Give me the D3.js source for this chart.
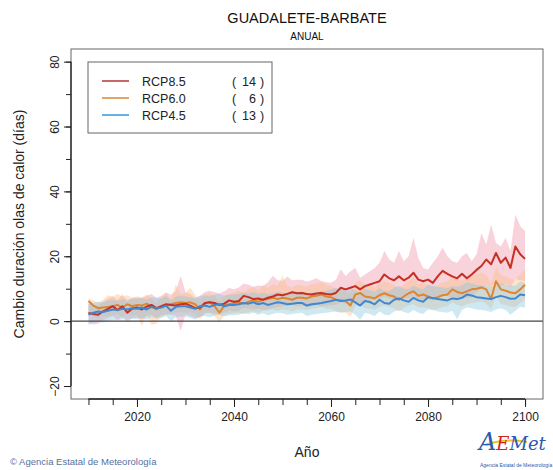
<!DOCTYPE html>
<html>
<head>
<meta charset="utf-8">
<script src="https://cdn.jsdelivr.net/npm/d3@7"></script>
<style>
  body { margin: 0; background: #fff; }
  svg { display: block; font-family: "Liberation Sans", Arial, sans-serif; }
</style>
</head>
<body>
<svg id="chart" width="553" height="470"></svg>
<script>
var width = 553, height = 470;

var startYear = 2010;

// Mean change per scenario (days), 2010..2100
var rcp85 = [2.5, 2.2, 2.0, 3.0, 3.8, 4.6, 3.4, 4.6, 2.6, 3.8,
    4.2, 3.6, 4.5, 5.0, 4.0, 4.6, 5.2, 5.0, 4.8, 5.2,
    5.4, 4.8, 4.0, 4.2, 5.6, 5.8, 5.6, 5.0, 5.4, 6.4,
    6.0, 6.2, 7.8, 7.4, 6.8, 7.0, 6.6, 7.2, 7.6, 8.2,
    8.0, 8.4, 8.9, 8.6, 8.7, 8.4, 8.2, 8.5, 8.7, 8.4,
    8.2, 8.7, 10.3, 9.8, 10.3, 10.8, 9.8, 10.8, 11.3, 11.8,
    12.3, 14.4, 13.2, 12.6, 13.8, 12.6, 13.4, 14.9, 12.8, 12.3,
    12.8, 11.8, 13.8, 15.5, 14.6, 13.8, 13.2, 14.6, 13.2, 14.4,
    15.8, 17.0, 19.0, 17.5, 21.0, 18.0, 19.6, 16.4, 23.0, 20.6,
    19.2];
var rcp85Lo = [-0.5, -1.0, -0.8, 0.2, 1.0, 1.6, 0.4, 1.4, -0.2, 0.8,
    1.2, 0.6, 1.4, 2.0, 1.0, 1.8, 2.2, 2.0, 1.6, -3.0,
    2.0, 1.6, 0.8, 1.2, 2.4, 2.6, 2.4, 2.0, 2.6, 3.2,
    3.0, 3.2, 4.0, 3.8, 3.6, 3.8, 3.4, 3.6, 4.0, 4.4,
    4.6, 4.8, 5.0, 4.6, 4.8, 4.4, 4.6, 5.0, 4.6, 4.8,
    4.8, 5.0, 5.8, 5.4, 5.6, 6.0, 5.4, 6.0, 6.2, 6.6,
    6.8, 7.6, 7.0, 6.8, 7.2, 6.8, 7.0, 7.8, 6.8, 6.6,
    6.8, 6.2, 7.2, 8.0, 7.6, 7.2, 7.0, 7.6, 7.0, 7.4,
    9.0, 10.0, 11.0, 10.6, 12.0, 11.0, 11.4, 10.4, 13.0, 12.6,
    12.4];
var rcp85Hi = [5.5, 5.0, 4.8, 6.0, 7.0, 7.6, 6.6, 8.2, 6.0, 7.2,
    7.4, 7.0, 7.8, 8.4, 7.2, 7.8, 8.8, 8.2, 9.2, 14.0,
    9.0, 8.4, 7.2, 7.8, 9.0, 9.4, 9.0, 8.6, 9.2, 10.2,
    9.8, 10.4, 11.6, 11.2, 10.6, 11.0, 10.8, 12.0, 14.0, 12.6,
    12.4, 13.8, 12.6, 12.8, 12.8, 12.2, 12.6, 13.2, 12.4, 12.0,
    11.8, 12.8, 16.0, 13.9, 15.4, 16.4, 13.4, 14.4, 15.4, 16.4,
    18.0, 21.6, 19.0, 18.0, 21.6, 18.5, 20.0, 25.7, 19.5, 16.4,
    15.9, 18.0, 20.0, 22.6, 20.0, 18.5, 18.0, 20.0, 21.0, 18.5,
    20.6, 27.2, 23.6, 29.8, 24.2, 23.0, 25.7, 21.6, 32.9, 29.3,
    27.7];

var rcp60 = [6.2, 4.8, 4.0, 4.2, 4.4, 4.6, 5.0, 4.2, 5.2, 4.6,
    5.0, 4.8, 5.4, 4.4, 3.6, 4.4, 4.8, 5.2, 5.6, 5.8,
    5.6, 5.8, 5.2, 3.6, 5.4, 5.8, 4.6, 2.6, 4.8, 5.2,
    5.6, 5.8, 5.4, 6.0, 6.4, 6.0, 6.6, 6.8, 7.2, 6.8,
    7.2, 7.0, 6.6, 7.2, 7.2, 7.0, 7.6, 7.8, 8.2, 7.6,
    7.4, 6.6, 6.4, 6.2, 4.8, 8.2, 8.7, 7.6, 7.4, 7.0,
    8.0, 8.6, 8.0, 7.6, 6.6, 7.6, 8.6, 9.2, 7.8, 8.2,
    7.6, 7.0, 7.4, 8.0, 8.2, 9.8, 9.0, 8.6, 9.2, 9.8,
    10.0, 10.4, 9.8, 6.8, 12.3, 9.8, 9.4, 8.8, 8.6, 9.8,
    11.2];
var rcp60Lo = [2.0, 1.4, 0.8, 1.6, 1.4, 1.8, 2.2, 1.0, 2.4, 1.6,
    2.0, -1.6, 2.2, -1.2, -0.8, 1.4, 1.8, 2.2, 2.6, 2.8,
    2.6, 2.8, 2.2, 0.6, 2.4, 2.6, 1.4, -0.4, 1.8, 2.2,
    2.4, 2.6, 2.2, 2.8, 3.0, 2.6, 3.2, 3.4, 3.6, 3.2,
    3.6, 3.4, 3.0, 3.6, 3.6, 3.4, 3.8, 4.0, 4.4, 3.8,
    3.8, 3.0, 2.8, 2.6, 1.4, 4.6, 5.0, 4.0, 3.8, 3.6,
    4.4, 4.8, 4.4, 4.0, 3.0, 4.0, 4.8, 5.2, 4.2, 4.4,
    4.0, 3.4, 3.8, 4.4, 4.6, 5.8, 5.0, 4.6, 5.2, 5.6,
    5.8, 6.0, 5.4, 3.6, 7.8, 5.4, 5.0, 4.6, 4.4, 5.6,
    6.6];
var rcp60Hi = [7.0, 6.4, 5.8, 6.6, 8.0, 7.6, 8.4, 7.6, 8.0, 7.2,
    7.6, 7.4, 8.2, 7.0, 5.6, 7.4, 8.6, 7.0, 11.2, 8.4,
    8.6, 10.4, 8.0, 6.6, 8.4, 8.6, 7.8, 6.0, 8.0, 8.4,
    8.8, 9.4, 8.8, 10.0, 10.6, 9.4, 11.2, 10.2, 11.4, 11.0,
    14.0, 10.8, 10.4, 11.2, 11.0, 10.6, 11.4, 11.6, 12.0, 11.2,
    10.8, 10.0, 9.8, 9.4, 8.6, 11.8, 12.6, 11.2, 11.0, 10.4,
    11.6, 12.4, 11.8, 11.2, 10.0, 11.2, 12.4, 13.6, 11.4, 12.0,
    11.2, 10.6, 11.0, 12.0, 12.2, 14.0, 13.2, 12.6, 13.4, 14.2,
    14.4, 15.0, 14.2, 11.6, 16.8, 14.2, 13.8, 13.0, 12.8, 14.6,
    16.0];

var rcp45 = [2.0, 2.6, 3.0, 2.8, 3.2, 3.6, 3.4, 3.8, 3.6, 4.0,
    3.8, 4.2, 3.6, 4.4, 4.0, 4.2, 4.8, 3.2, 4.4, 4.6,
    4.6, 4.2, 3.8, 4.6, 4.8, 4.4, 5.0, 5.2, 4.6, 5.0,
    5.0, 5.2, 5.6, 5.4, 5.8, 5.2, 5.6, 5.0, 5.4, 5.8,
    5.6, 5.2, 5.4, 5.6, 5.6, 4.8, 5.2, 5.4, 5.6, 5.9,
    6.2, 6.6, 6.2, 6.4, 6.7, 5.8, 4.8, 6.2, 5.9, 5.2,
    6.6, 5.6, 5.4, 6.6, 7.0, 6.4, 6.0, 7.2, 6.4, 6.0,
    7.4, 7.1, 6.8, 6.6, 6.4, 7.0, 6.8, 7.2, 8.2, 7.9,
    7.4, 7.2, 7.0, 6.8, 7.4, 7.8, 7.4, 6.9, 7.0, 8.2,
    8.0];
var rcp45Lo = [-1.2, -0.6, -0.2, -0.4, 0.0, 0.4, 0.2, 0.6, 0.4, 0.8,
    0.6, 1.0, 0.4, 1.2, 0.8, 1.0, 1.6, 0.0, 1.2, 1.4,
    1.4, 1.0, 0.6, 1.4, 1.6, 1.2, 1.8, 2.0, 1.4, 1.8,
    1.8, 2.0, 2.4, 2.2, 2.6, 2.0, 2.4, 1.8, 2.2, 2.6,
    2.4, 2.0, 2.2, 2.4, 2.6, 1.6, 2.0, 2.2, 2.4, 2.6,
    2.8, 3.0, 2.6, 2.8, 3.0, 2.0, 0.4, 2.6, 2.2, 1.6,
    3.0, 2.0, 1.8, 3.0, 3.4, 2.8, 2.4, 3.4, 2.6, 2.2,
    3.6, 3.4, 3.0, 2.8, 2.6, 3.2, 0.6, 3.4, 4.2, 4.0,
    3.6, 3.4, 3.2, 2.8, 3.6, 4.0, 3.4, 2.0, 3.2, 4.4,
    4.2];
var rcp45Hi = [5.2, 5.6, 6.0, 5.8, 6.4, 6.6, 6.2, 6.8, 6.6, 7.0,
    6.8, 7.2, 6.6, 7.4, 7.2, 7.0, 7.8, 6.4, 7.6, 7.8,
    7.6, 7.4, 7.0, 7.8, 8.0, 7.6, 8.2, 8.4, 7.8, 8.2,
    8.2, 8.4, 8.8, 8.6, 9.0, 8.4, 8.8, 8.4, 8.6, 9.0,
    8.8, 8.6, 8.8, 9.0, 9.2, 8.4, 8.8, 9.0, 9.2, 9.4,
    9.8, 10.2, 9.8, 10.0, 10.4, 9.6, 8.8, 10.0, 9.6, 9.0,
    10.2, 9.4, 9.2, 10.4, 10.8, 10.0, 9.8, 11.0, 10.2, 9.8,
    11.2, 10.8, 10.6, 10.4, 10.2, 10.8, 10.6, 11.0, 12.0, 11.6,
    11.2, 11.0, 10.8, 10.6, 11.2, 11.6, 11.2, 10.8, 11.0, 12.2,
    11.8];

var scenarios = ["RCP8.5", "RCP6.0", "RCP4.5"];
var modelCounts = [14, 6, 13];
var yTickValues = [-20, 0, 20, 40, 60, 80];
var xTickValues = [2020, 2040, 2060, 2080, 2100];

var lineColors = ["#c62f22", "#e0852f", "#3f88d0"];
var bandColors = ["rgba(238,140,160,0.38)", "rgba(250,190,130,0.40)", "rgba(140,200,225,0.42)"];
var legendColors = ["#c05858", "#e09a55", "#5aa6e0"];

var series = [
    { mean: rcp85, lo: rcp85Lo, hi: rcp85Hi },
    { mean: rcp60, lo: rcp60Lo, hi: rcp60Hi },
    { mean: rcp45, lo: rcp45Lo, hi: rcp45Hi }
];

var svg = d3.select("#chart");

var plot = { left: 71, top: 49, right: 543, bottom: 399 };

var x = d3.scaleLinear().domain([2006.4, 2103.7]).range([plot.left, plot.right]);
var y = d3.scaleLinear().domain([-24, 83.9]).range([plot.bottom, plot.top]);

svg.append("defs").append("clipPath")
    .attr("id", "clip-plot")
    .append("rect")
        .attr("x", plot.left)
        .attr("y", plot.top)
        .attr("width", plot.right - plot.left)
        .attr("height", plot.bottom - plot.top);

var layer = svg.append("g").attr("clip-path", "url(#clip-plot)");

// Bands
series.forEach(function(s, k) {
    var area = d3.area()
        .x(function(d, i) { return x(startYear + i); })
        .y0(function(d, i) { return y(s.lo[i]); })
        .y1(function(d, i) { return y(s.hi[i]); });
    layer.append("path")
        .datum(s.mean)
        .attr("d", area)
        .attr("fill", bandColors[k])
        .attr("stroke", "none");
});

// Zero line
layer.append("line")
    .attr("x1", plot.left).attr("x2", plot.right)
    .attr("y1", y(0)).attr("y2", y(0))
    .attr("stroke", "#444")
    .attr("stroke-width", 1.2);

// Mean lines
var line = d3.line()
    .x(function(d, i) { return x(startYear + i); })
    .y(function(d) { return y(d); });

[1, 0, 2].forEach(function(k) {
    layer.append("path")
        .datum(series[k].mean)
        .attr("d", line)
        .attr("fill", "none")
        .attr("stroke", lineColors[k])
        .attr("stroke-width", 2)
        .attr("stroke-linejoin", "round");
});

// Frame
svg.append("rect")
    .attr("x", plot.left).attr("y", plot.top)
    .attr("width", plot.right - plot.left)
    .attr("height", plot.bottom - plot.top)
    .attr("fill", "none")
    .attr("stroke", "#666")
    .attr("stroke-width", 1);

// Y axis
var yMinor = svg.append("g")
    .attr("transform", "translate(" + plot.left + ",0)")
    .call(d3.axisLeft(y).tickValues(d3.range(-20, 81, 10)).tickSize(5).tickFormat(""));
yMinor.select(".domain").remove();

var yAxis = svg.append("g")
    .attr("transform", "translate(" + plot.left + ",0)")
    .call(d3.axisLeft(y).tickValues(yTickValues).tickSize(7).tickPadding(0));
yAxis.select(".domain")
    .attr("d", "M0," + y(-20) + "V" + y(80))
    .attr("stroke", "#222").attr("stroke-width", 1.3);
yAxis.selectAll(".tick text")
    .attr("transform", function(d) { return "translate(-16,0) rotate(-90)"; })
    .attr("x", 0).attr("dy", "0.35em")
    .attr("text-anchor", "middle")
    .attr("font-size", 12)
    .attr("fill", "#222");
svg.selectAll(".tick line").attr("stroke", "#222");

// X axis
var xMinor = svg.append("g")
    .attr("transform", "translate(0," + plot.bottom + ")")
    .call(d3.axisBottom(x).tickValues(d3.range(2010, 2101, 5)).tickSize(6).tickFormat(""));
xMinor.select(".domain").remove();

var xAxis = svg.append("g")
    .attr("transform", "translate(0," + plot.bottom + ")")
    .call(d3.axisBottom(x).tickValues(xTickValues).tickSize(8).tickPadding(5).tickFormat(d3.format("d")));
xAxis.select(".domain")
    .attr("d", "M" + x(2010) + ",0H" + x(2100))
    .attr("stroke", "#222").attr("stroke-width", 1.3);
xAxis.selectAll(".tick text")
    .attr("font-size", 12)
    .attr("fill", "#222");
svg.selectAll(".tick line").attr("stroke", "#222");

// Titles
svg.append("text")
    .attr("x", 307).attr("y", 23)
    .attr("text-anchor", "middle")
    .attr("font-size", 14.5)
    .attr("fill", "#111")
    .text("GUADALETE-BARBATE");
svg.append("text")
    .attr("x", 307).attr("y", 40)
    .attr("text-anchor", "middle")
    .attr("font-size", 10)
    .attr("fill", "#111")
    .text("ANUAL");

svg.append("text")
    .attr("transform", "translate(24," + ((plot.top + plot.bottom) / 2) + ") rotate(-90)")
    .attr("text-anchor", "middle")
    .attr("font-size", 14)
    .attr("fill", "#222")
    .text("Cambio duración olas de calor (días)");

svg.append("text")
    .attr("x", 307).attr("y", 457)
    .attr("text-anchor", "middle")
    .attr("font-size", 14)
    .attr("fill", "#222")
    .text("Año");

// Legend
var legend = svg.append("g");
legend.append("rect")
    .attr("x", 88).attr("y", 62)
    .attr("width", 184).attr("height", 71)
    .attr("fill", "#fff")
    .attr("stroke", "#666");

scenarios.forEach(function(name, k) {
    var ly = 81 + k * 17;
    legend.append("line")
        .attr("x1", 102).attr("x2", 129)
        .attr("y1", ly).attr("y2", ly)
        .attr("stroke", legendColors[k])
        .attr("stroke-width", 1.8);
    legend.append("text")
        .attr("x", 142).attr("y", ly + 4.5)
        .attr("font-size", 12.5)
        .attr("fill", "#222")
        .text(name);
    legend.append("text")
        .attr("x", 232).attr("y", ly + 4.5)
        .attr("font-size", 12.5)
        .attr("fill", "#222")
        .text("(");
    legend.append("text")
        .attr("x", 256).attr("y", ly + 4.5)
        .attr("text-anchor", "end")
        .attr("font-size", 12.5)
        .attr("fill", "#222")
        .text(modelCounts[k]);
    legend.append("text")
        .attr("x", 260).attr("y", ly + 4.5)
        .attr("font-size", 12.5)
        .attr("fill", "#222")
        .text(")");
});

// Footer
svg.append("text")
    .attr("x", 10).attr("y", 465)
    .attr("font-size", 9.5)
    .attr("fill", "#5570a0")
    .text("© Agencia Estatal de Meteorología");

// Logo, approximated with text
var logo = svg.append("g").attr("transform", "translate(479,427)");
logo.append("path")
    .attr("d", "M6,18 Q26,11 48,15")
    .attr("fill", "none")
    .attr("stroke", "#f0c020")
    .attr("stroke-width", 2);
var logoText = logo.append("text")
    .attr("x", 0).attr("y", 23)
    .attr("font-style", "italic")
    .attr("font-family", "DejaVu Serif, serif")
    .attr("fill", "#2a5bb0");
logoText.append("tspan").attr("font-size", 24).text("A");
logoText.append("tspan").attr("font-size", 18).attr("fill", "#d02020").text("E");
logoText.append("tspan").attr("font-size", 18).text("Met");
logo.append("text")
    .attr("x", 1).attr("y", 40)
    .attr("font-size", 5)
    .attr("fill", "#2a5bb0")
    .text("Agencia Estatal de Meteorología");
</script>
</body>
</html>
